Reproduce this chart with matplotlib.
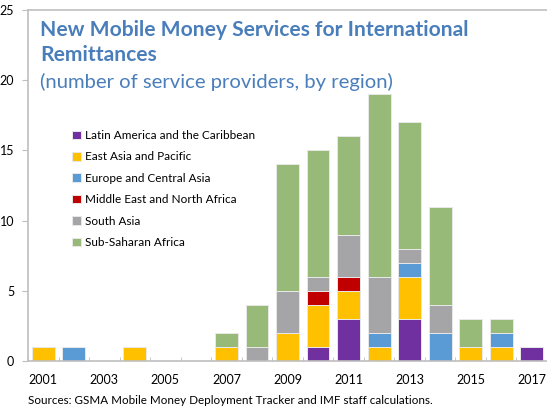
import numpy as np
import matplotlib
matplotlib.use("Agg")
import matplotlib.pyplot as plt

plt.rcParams["font.family"] = ["Lato", "DejaVu Sans"]

years = list(range(2001, 2018))
regions = ["Latin America and the Caribbean", "East Asia and Pacific",
           "Europe and Central Asia", "Middle East and North Africa",
           "South Asia", "Sub-Saharan Africa"]
colors = ["#7030a0", "#ffc000", "#5b9bd5", "#c00000", "#a5a5a8", "#97ba78"]

#counts per year, 2001..2017
lac  = [0, 0, 0, 0, 0, 0, 0, 0, 0, 1, 3, 0, 3, 0, 0, 0, 1]
eap  = [1, 0, 0, 1, 0, 0, 1, 0, 2, 3, 2, 1, 3, 0, 1, 1, 0]
eca  = [0, 1, 0, 0, 0, 0, 0, 0, 0, 0, 0, 1, 1, 2, 0, 1, 0]
mena = [0, 0, 0, 0, 0, 0, 0, 0, 0, 1, 1, 0, 0, 0, 0, 0, 0]
sa   = [0, 0, 0, 0, 0, 0, 0, 1, 3, 1, 3, 4, 1, 2, 0, 0, 0]
ssa  = [0, 0, 0, 0, 0, 0, 1, 3, 9, 9, 7, 13, 9, 7, 2, 1, 0]
series = [lac, eap, eca, mena, sa, ssa]

W, H = 547, 409
fig = plt.figure(figsize=(W / 100, H / 100), dpi=100)
ax = fig.add_axes([28 / W, 1 - 361 / H, 519 / W, 351 / H])
renderer = fig.canvas.get_renderer()


def fit_size(text, target_px, **kw):
    #size the font so the string spans about target_px, like the calibri original
    t = fig.text(0, 0, text, fontsize=10, **kw)
    w = t.get_window_extent(renderer).width
    t.remove()
    return 10 * target_px / w


x = np.arange(len(years))
bottom = np.zeros(len(years))
for name, vals, c in zip(regions, series, colors):
    vals = np.array(vals, dtype=float)
    ax.bar(x, vals, 0.75, bottom=bottom, color=c, edgecolor="#e8e8e8",
           linewidth=0.7, label=name)
    bottom += vals

ax.set_xlim(-0.5, len(years) - 0.5)
ax.set_ylim(0, 25)
ax.set_yticks([0, 5, 10, 15, 20, 25])
ax.set_xticks(x[::2])
ax.set_xticklabels([str(y) for y in years[::2]])
ax.set_xticks(np.arange(-0.5, len(years), 1), minor=True)
ax.tick_params(axis="x", which="major", length=0, pad=9, labelsize=9)
ax.tick_params(axis="x", which="minor", direction="in", length=3, color="#bfbfbf")
ax.tick_params(axis="y", length=4, color="#bfbfbf", pad=6, labelsize=9)

for s in ["left", "bottom", "top"]:
    ax.spines[s].set_color("#bfbfbf")
    ax.spines[s].set_linewidth(1.2)
ax.spines["right"].set_visible(False)

leg_fs = fit_size(regions[0], 169)
leg_px = leg_fs * 100 / 72
leg = ax.legend(loc="upper left", bbox_to_anchor=(44 / 519, (361 - 130) / 351),
                frameon=False, fontsize=leg_fs, handlelength=0.75, handleheight=0.75,
                handletextpad=0.35, labelspacing=(21 - 0.9 * leg_px) / leg_px,
                borderpad=0, borderaxespad=0)

blue = "#4a7ebb"
title = "New Mobile Money Services for International"
sub = "(number of service providers, by region)"
src = "Sources: GSMA Mobile Money Deployment Tracker and IMF staff calculations."
t_fs = fit_size(title, 428, fontweight="bold")
fig.text(40 / W, 1 - 36 / H, title, color=blue, fontsize=t_fs,
         fontweight="bold", va="baseline")
fig.text(40 / W, 1 - 61 / H, "Remittances", color=blue, fontsize=t_fs,
         fontweight="bold", va="baseline")
fig.text(40 / W, 1 - 88 / H, sub, color=blue, fontsize=fit_size(sub, 354),
         va="baseline")
fig.text(28 / W, 1 - 404 / H, src, fontsize=fit_size(src, 404), va="baseline")

fig.savefig("out.png", dpi=100)
